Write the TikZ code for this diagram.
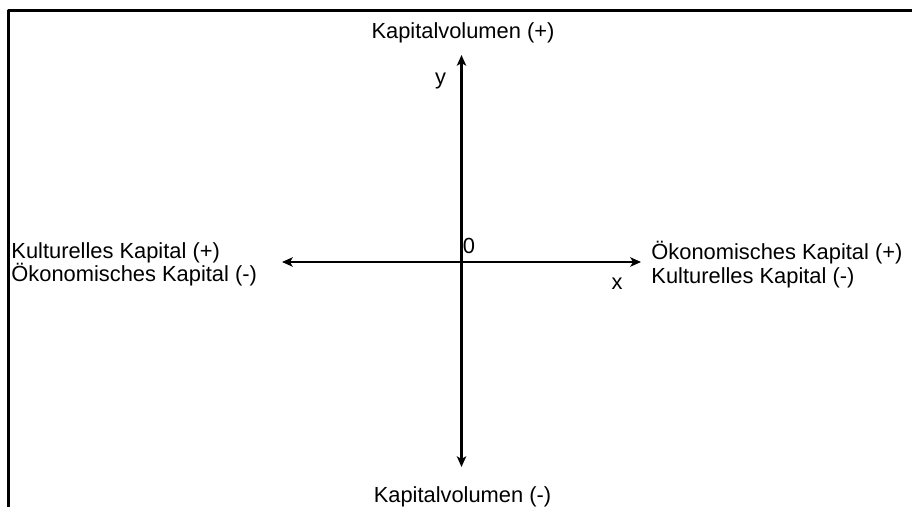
\documentclass[tikz,border=0pt]{standalone}
\usepackage{fontspec}
\setmainfont{Liberation Sans}
\usetikzlibrary{arrows.meta}

\begin{document}
\begin{tikzpicture}[x=0.75pt,y=-0.75pt,>={Stealth[length=8pt,width=7pt,inset=2pt]}, font=\fontsize{16.4}{17.6}\selectfont, line join=round]
	\def\xmin{282} \def\xmax{641} \def\ymin{467} \def\ymax{55}
	\useasboundingbox (0,0) rectangle (912,507);
	% Rahmen (rechts und unten abgeschnitten)
	\draw[line width=2.4pt] (8.5,507) -- (8.5,10.5) -- (912,10.5);
	% Achsen
	\coordinate (O) at (461.5,262);
	\coordinate (xl) at (\xmin,262);
	\coordinate (xr) at (\xmax,262);
	\coordinate (yo) at (461.5,\ymax);
	\coordinate (yu) at (461.5,\ymin);
	\draw[<->, line width=1.8pt] (xl) -- (xr);
	\draw[<->, line width=1.8pt] (yu) -- (yo);
	% Beschriftungen
	\node[anchor=base] (kvplus) at (463,38) {Kapitalvolumen (+)};
	\node[anchor=base] (kvminus) at (462.5,502) {Kapitalvolumen (-)};
	\node[anchor=west, align=left, inner sep=0] (links) at (11.2,264.5) {Kulturelles Kapital (+)\\Ökonomisches Kapital (-)};
	\node[anchor=west, align=left, inner sep=0] (rechts) at (651.2,264.5) {Ökonomisches Kapital (+)\\Kulturelles Kapital (-)};
	\node[anchor=base] (ylab) at (440.5,84) {y};
	\node[anchor=base] (null) at (469,253) {0};
	\node[anchor=base] (xlab) at (617,289) {x};
\end{tikzpicture}
\end{document}
